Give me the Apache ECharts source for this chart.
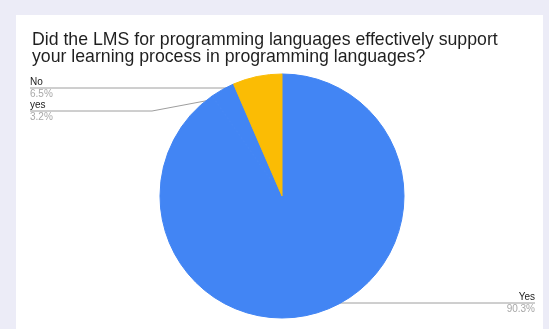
<!DOCTYPE html>
<html>
<head>
<meta charset="utf-8">
<script src="https://cdn.jsdelivr.net/npm/echarts@6/dist/echarts.min.js"></script>
<style>
  html, body { margin: 0; padding: 0; background: #ececf7; }
  #chart { width: 549px; height: 329px; }
</style>
</head>
<body>
<div id="chart"></div>
<script>
const titleText = 'Did the LMS for programming languages effectively support\nyour learning process in programming languages?';
const answers = ['Yes', 'yes', 'No'];
const shares = [90.3, 3.2, 6.5];
const sliceColors = ['#4285f4', '#4285f4', '#fbbc04'];

// where each leader line ends up (layout only, not data)
const pieCenter = [282, 196];
const pieRadius = 122;
const labelSpots = [
  { x: 535, y: 303, align: 'right', bend: null },
  { x: 30, y: 111, align: 'left', bend: 152 },
  { x: 30, y: 88, align: 'left', bend: 233 },
];

const chart = echarts.init(document.getElementById('chart'));

const option = {
  animation: false,
  graphic: [
    {
      type: 'rect',
      shape: { x: 16, y: 15, width: 527, height: 320 },
      style: { fill: '#ffffff' },
      silent: true,
    },
  ],
  title: {
    text: titleText,
    left: 27,
    top: 27,
    textStyle: {
      fontFamily: 'Liberation Sans',
      fontSize: 17.7,
      fontWeight: 'normal',
      lineHeight: 17,
      color: '#1f1f1f',
    },
  },
  series: [
    {
      type: 'pie',
      center: pieCenter,
      radius: pieRadius,
      startAngle: 90,
      data: answers.map((name, i) => ({
        name,
        value: shares[i],
        // border in the slice colour hides the seam between the two blue slices
        itemStyle: { color: sliceColors[i], borderColor: sliceColors[i], borderWidth: 1 },
      })),
      label: {
        show: true,
        fontFamily: 'Liberation Sans',
        formatter: (p) => '{n|' + p.name + '}\n{p|' + p.value.toFixed(1) + '%}',
        rich: {
          n: { fontSize: 10, lineHeight: 12, color: '#222222', fontFamily: 'Liberation Sans' },
          p: { fontSize: 10, lineHeight: 12, color: '#a8a8a8', fontFamily: 'Liberation Sans' },
        },
      },
      labelLine: {
        show: true,
        lineStyle: { color: '#9e9e9e', width: 1 },
      },
      labelLayout: (params) => {
        const spot = labelSpots[params.dataIndex];
        const edge = params.labelLinePoints[0];
        // start the line a bit inside the slice, like the original
        const start = [
          pieCenter[0] + (edge[0] - pieCenter[0]) * 0.93,
          pieCenter[1] + (edge[1] - pieCenter[1]) * 0.93,
        ];
        const pts = spot.bend === null
          ? [start, [start[0] + 1, spot.y], [spot.x, spot.y]]
          : [start, [spot.bend, spot.y], [spot.x, spot.y]];
        return {
          x: spot.x,
          y: spot.y,
          align: spot.align,
          verticalAlign: 'middle',
          labelLinePoints: pts,
        };
      },
      emphasis: { disabled: true },
    },
  ],
};

chart.setOption(option);
</script>
</body>
</html>
